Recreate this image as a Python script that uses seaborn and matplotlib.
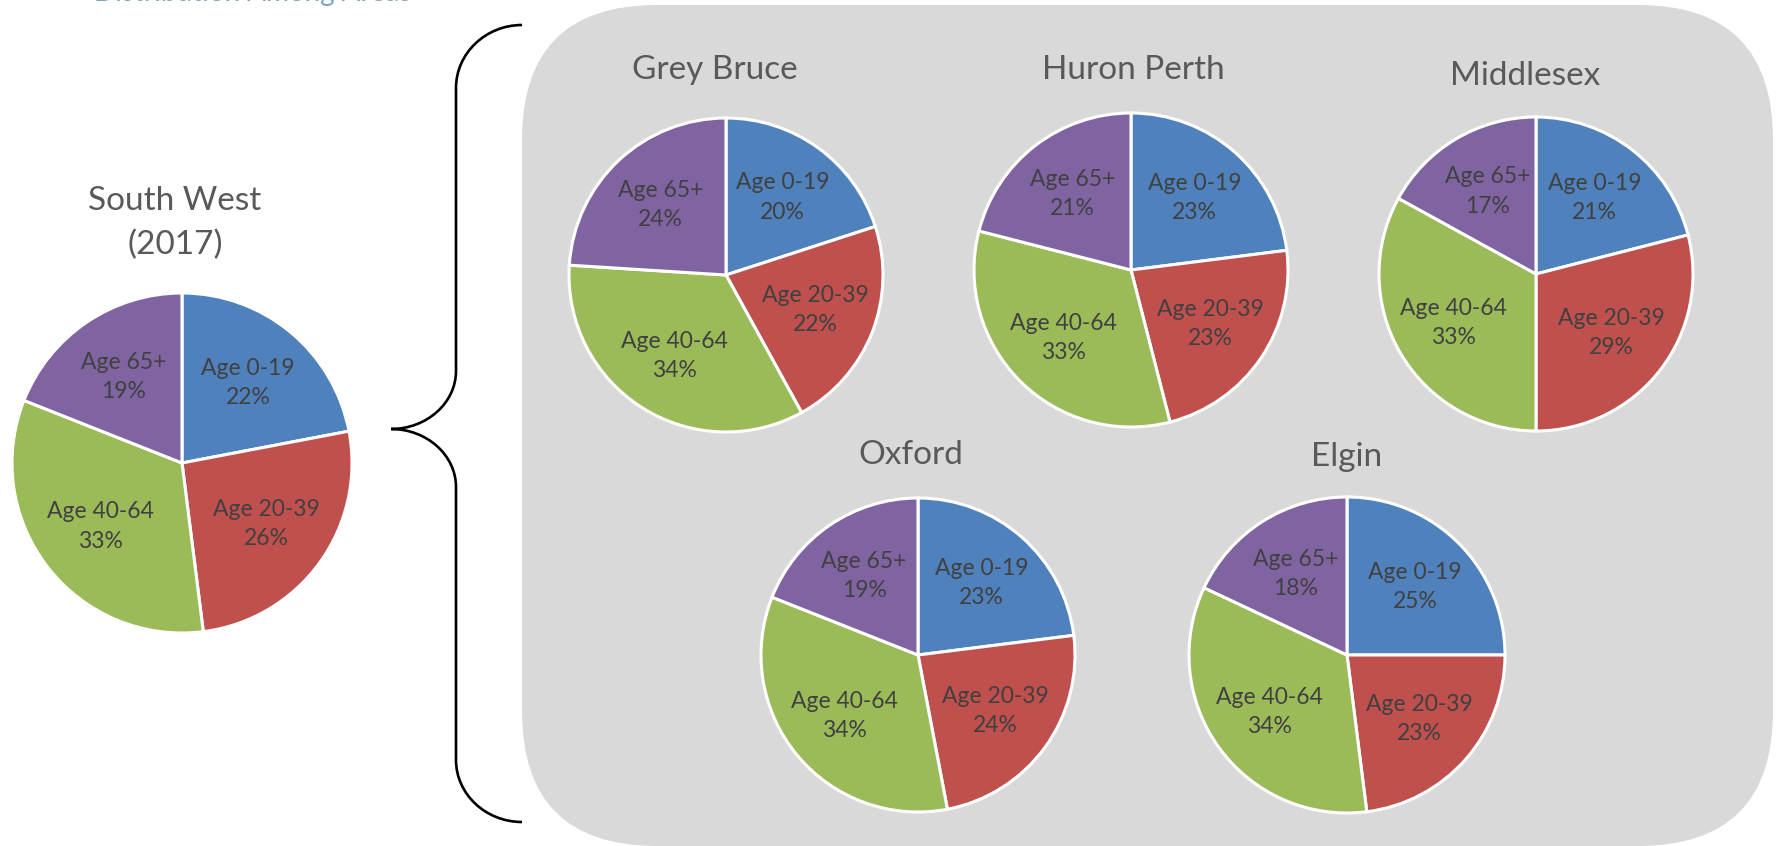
import matplotlib
matplotlib.use("Agg")
import matplotlib.pyplot as plt
import seaborn as sns
from matplotlib.patches import FancyBboxPatch, PathPatch
from matplotlib.path import Path

# ---- data -------------------------------------------------------------
age_groups = ["Age 0-19", "Age 20-39", "Age 40-64", "Age 65+"]

south_west = [22, 26, 33, 19]
grey_bruce = [20, 22, 34, 24]
huron_perth = [23, 23, 33, 21]
middlesex = [21, 29, 33, 17]
oxford = [23, 24, 34, 19]
elgin = [25, 23, 34, 18]

region_names = ["South West\n(2017)", "Grey Bruce", "Huron Perth",
                "Middlesex", "Oxford", "Elgin"]
region_values = [south_west, grey_bruce, huron_perth, middlesex, oxford, elgin]

# ---- style ------------------------------------------------------------
sns.set_theme(style="white")
plt.rcParams["font.family"] = ["Lato", "DejaVu Sans"]
palette = sns.color_palette(["#4F81BD", "#C0504D", "#9BBB59", "#8064A2"])

W, H = 1779, 846
fig = plt.figure(figsize=(W / 100, H / 100), dpi=100)
fig.patch.set_facecolor("white")

# pixel-space canvas for the panel, brace and titles
bg = fig.add_axes([0, 0, 1, 1], zorder=0)
bg.set_xlim(0, W)
bg.set_ylim(H, 0)
bg.axis("off")

panel = FancyBboxPatch((522, 5), 1251, 841,
                       boxstyle="round,pad=0,rounding_size=135",
                       facecolor="#D9D9D9", edgecolor="none")
bg.add_patch(panel)

# curly brace joining the overall pie to the sub-region panel
xe, xv, xt = 522, 456, 391
y_top, y_up, y_tip, y_bot = 25, 88, 429, 822
k = 0.55
verts = [
    (xe, y_top),
    (xe - k * (xe - xv), y_top), (xv, y_up - k * (y_up - y_top)), (xv, y_up),
    (xv, y_tip - 58),
    (xv, y_tip - 58 + k * 58), (xt + k * (xv - xt), y_tip), (xt, y_tip),
    (xt + k * (xv - xt), y_tip), (xv, y_tip + 58 - k * 58), (xv, y_tip + 58),
    (xv, y_bot - 62),
    (xv, y_bot - 62 + k * 62), (xe - k * (xe - xv), y_bot), (xe, y_bot),
]
codes = [Path.MOVETO,
         Path.CURVE4, Path.CURVE4, Path.CURVE4,
         Path.LINETO,
         Path.CURVE4, Path.CURVE4, Path.CURVE4,
         Path.CURVE4, Path.CURVE4, Path.CURVE4,
         Path.LINETO,
         Path.CURVE4, Path.CURVE4, Path.CURVE4]
bg.add_patch(PathPatch(Path(verts, codes), facecolor="none",
                       edgecolor="black", linewidth=1.9, capstyle="butt"))

# heading running off the top edge
bg.text(94, 0.5, "Distribution Among Areas", color="#7FA3C0",
        fontsize=20, ha="left", va="baseline")

# ---- layout: pie centre (px), radius (px), title anchor (px) ----------
layout = [
    dict(c=(182, 463), r=170, t=(175, 223), va="center", ls=1.55),
    dict(c=(726, 275), r=157, t=(715, 79), va="baseline", ls=1.2),
    dict(c=(1131, 270), r=157, t=(1133, 79), va="baseline", ls=1.2),
    dict(c=(1536, 274), r=157, t=(1525, 85), va="baseline", ls=1.2),
    dict(c=(918, 655), r=157, t=(911, 464), va="baseline", ls=1.2),
    dict(c=(1347, 655), r=158, t=(1347, 466), va="baseline", ls=1.2),
]

pad = 1.03
for name, vals, lay in zip(region_names, region_values, layout):
    cx, cy = lay["c"]
    R = lay["r"] * pad
    ax = fig.add_axes([(cx - R) / W, (H - cy - R) / H, 2 * R / W, 2 * R / H],
                      zorder=2)
    labels = [f"{g}\n{v}%" for g, v in zip(age_groups, vals)]
    wedges, texts = ax.pie(
        vals, labels=labels, colors=palette, startangle=90,
        counterclock=False, labeldistance=0.61,
        wedgeprops=dict(edgecolor="white", linewidth=2.2),
        textprops=dict(color="#404040", fontsize=16.5, linespacing=1.48),
    )
    for t in texts:
        t.set_ha("center")
        t.set_va("center")
    ax.set_xlim(-pad, pad)
    ax.set_ylim(-pad, pad)
    ax.set_aspect("equal")
    ax.axis("off")

    bg.text(lay["t"][0], lay["t"][1], name, color="#595959", fontsize=24,
            ha="center", va=lay["va"], linespacing=lay["ls"])

fig.savefig("out.png", dpi=100, facecolor="white")
